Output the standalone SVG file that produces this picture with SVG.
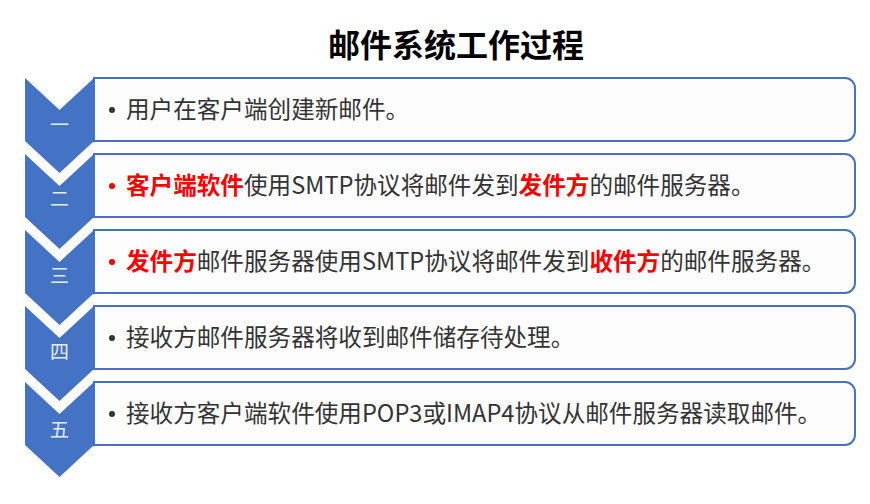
<svg xmlns="http://www.w3.org/2000/svg" width="870" height="504" viewBox="0 0 870 504">
<style>
.chev{fill:#4472C4;}
.box{fill:#FDFDFD;stroke:#4472C4;stroke-width:2;}
.num{font-family:"Noto Sans CJK SC",sans-serif;font-size:19px;fill:#E6ECF7;text-anchor:middle;}
.txt{font-family:"Noto Sans CJK SC",sans-serif;font-size:23.6px;fill:#333333;}
.red{fill:#FF0000;font-weight:bold;}
.title{font-family:"Noto Sans CJK SC",sans-serif;font-size:32px;font-weight:bold;fill:#000000;text-anchor:middle;}
</style>
<rect width="870" height="504" fill="#FFFFFF"/>
<text class="title" x="456" y="57">邮件系统工作过程</text>
<g id="step1">
<path class="chev" d="M25,78 L59.5,110 L94,78 L94,141 L59.5,173 L25,141 Z"/>
<text class="num" x="59.5" y="132">一</text>
<path class="box" d="M94,78 H845 A10,10 0 0 1 855,88 V131 A10,10 0 0 1 845,141 H94 Z"/>
<circle cx="112" cy="110" r="3" fill="#333333"/>
<text class="txt" x="126" y="118">用户在客户端创建新邮件。</text>
</g>
<g id="step2">
<path class="chev" d="M25,154 L59.5,186 L94,154 L94,217 L59.5,249 L25,217 Z"/>
<text class="num" x="59.5" y="206">二</text>
<path class="box" d="M94,154 H845 A10,10 0 0 1 855,164 V207 A10,10 0 0 1 845,217 H94 Z"/>
<circle cx="112" cy="186" r="3" fill="#FF0000"/>
<text class="txt" x="126" y="194"><tspan class="red">客户端软件</tspan>使用SMTP协议将邮件发到<tspan class="red">发件方</tspan>的邮件服务器。</text>
</g>
<g id="step3">
<path class="chev" d="M25,230 L59.5,262 L94,230 L94,293 L59.5,325 L25,293 Z"/>
<text class="num" x="59.5" y="283">三</text>
<path class="box" d="M94,230 H845 A10,10 0 0 1 855,240 V283 A10,10 0 0 1 845,293 H94 Z"/>
<circle cx="112" cy="262" r="3" fill="#FF0000"/>
<text class="txt" x="126" y="270"><tspan class="red">发件方</tspan>邮件服务器使用SMTP协议将邮件发到<tspan class="red">收件方</tspan>的邮件服务器。</text>
</g>
<g id="step4">
<path class="chev" d="M25,306 L59.5,338 L94,306 L94,369 L59.5,401 L25,369 Z"/>
<text class="num" x="59.5" y="359">四</text>
<path class="box" d="M94,306 H845 A10,10 0 0 1 855,316 V359 A10,10 0 0 1 845,369 H94 Z"/>
<circle cx="112" cy="338" r="3" fill="#333333"/>
<text class="txt" x="126" y="346">接收方邮件服务器将收到邮件储存待处理。</text>
</g>
<g id="step5">
<path class="chev" d="M25,382 L59.5,414 L94,382 L94,445 L59.5,477 L25,445 Z"/>
<text class="num" x="59.5" y="437">五</text>
<path class="box" d="M94,382 H845 A10,10 0 0 1 855,392 V435 A10,10 0 0 1 845,445 H94 Z"/>
<circle cx="112" cy="414" r="3" fill="#333333"/>
<text class="txt" x="126" y="422">接收方客户端软件使用POP3或IMAP4协议从邮件服务器读取邮件。</text>
</g>
<g id="connectors"></g>
</svg>
